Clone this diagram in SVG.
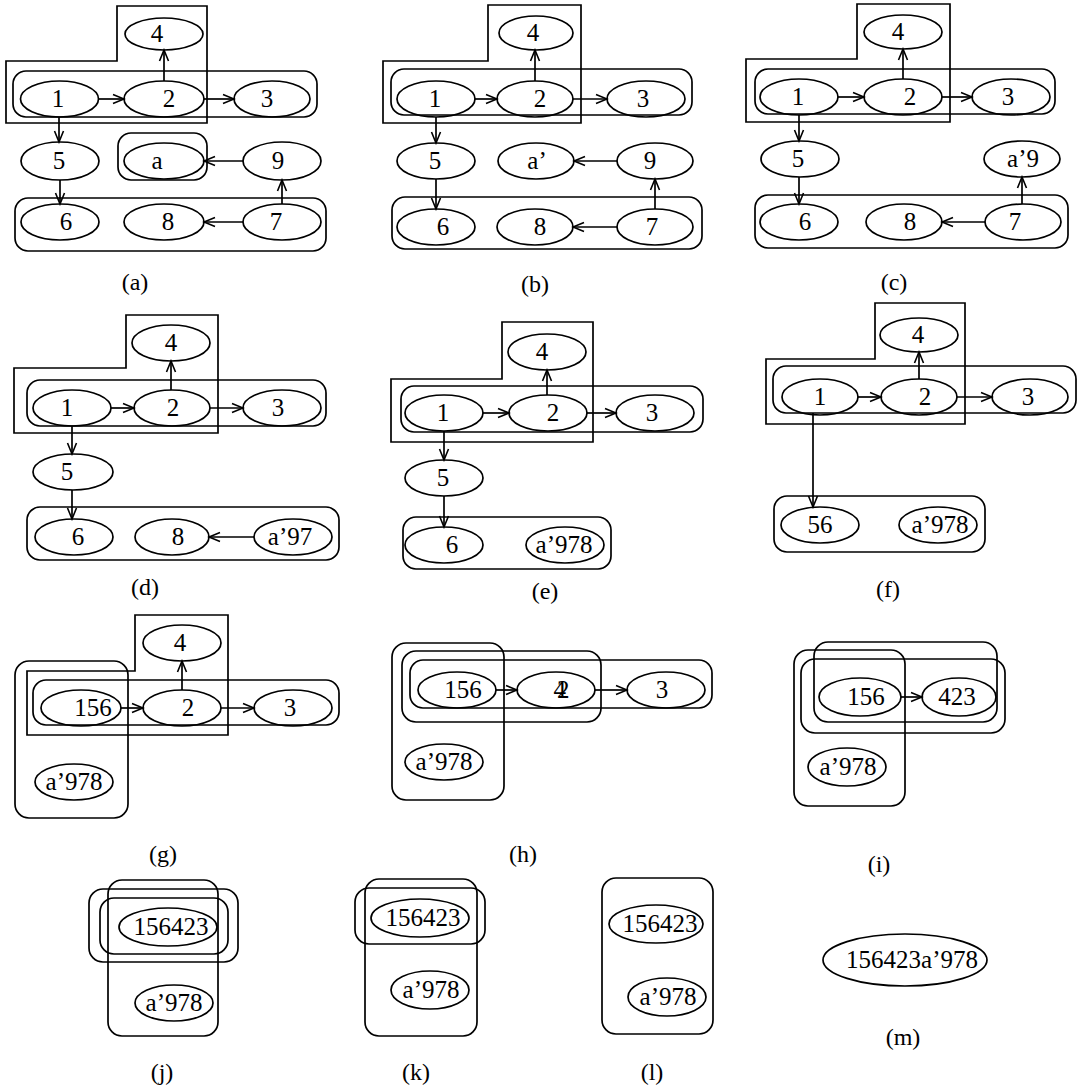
<svg xmlns="http://www.w3.org/2000/svg" width="1078" height="1088" viewBox="0 0 1078 1088">
<style>
.n{fill:none;stroke:#000;stroke-width:1.7}
.c{fill:none;stroke:#000;stroke-width:1.7}
.e{fill:none;stroke:#000;stroke-width:1.7;marker-end:url(#ah)}
text{font-family:"Liberation Serif","Times New Roman",serif;font-size:25px;fill:#000;text-anchor:middle}
.cap{font-size:24px}
</style>
<defs>
<marker id="ah" viewBox="-12 -6 14 12" refX="0" refY="0" markerWidth="14" markerHeight="12" markerUnits="userSpaceOnUse" orient="auto">
<path d="M-11,-4.5 L0,0 L-11,4.5" fill="none" stroke="#000" stroke-width="1.6"/>
</marker>
</defs>
<rect width="1078" height="1088" fill="#fff"/>

<!-- Panel a -->
<g id="panel-a">
<g id="a-clusters">
<polygon class="c" points="117,6 207,6 207,123 6,123 6,61 117,61"/>
<rect class="c" x="13" y="71" width="304" height="46" rx="13"/>
<rect class="c" x="118" y="133" width="89" height="47" rx="13"/>
<rect class="c" x="15" y="198" width="311" height="53" rx="13"/>
</g>
<g id="a-n1"><ellipse class="n" cx="59.5" cy="99" rx="39" ry="18"/><text x="58" y="107">1</text></g>
<g id="a-n2"><ellipse class="n" cx="164" cy="99" rx="40" ry="18"/><text x="169" y="107">2</text></g>
<g id="a-n3"><ellipse class="n" cx="272" cy="99" rx="38" ry="18"/><text x="267" y="107">3</text></g>
<g id="a-n4"><ellipse class="n" cx="164" cy="34" rx="39" ry="16"/><text x="157" y="42">4</text></g>
<g id="a-n5"><ellipse class="n" cx="60" cy="161" rx="39" ry="19"/><text x="59" y="169">5</text></g>
<g id="a-na"><ellipse class="n" cx="164" cy="161" rx="40" ry="18"/><text x="157" y="169">a</text></g>
<g id="a-n9"><ellipse class="n" cx="282" cy="161" rx="39" ry="19"/><text x="278" y="169">9</text></g>
<g id="a-n6"><ellipse class="n" cx="60" cy="222" rx="39" ry="18"/><text x="66" y="230">6</text></g>
<g id="a-n8"><ellipse class="n" cx="164" cy="222" rx="40" ry="18"/><text x="168" y="230">8</text></g>
<g id="a-n7"><ellipse class="n" cx="282" cy="222" rx="39" ry="18"/><text x="276" y="230">7</text></g>
<g id="a-edges">
<line class="e" x1="99" y1="99" x2="124" y2="99"/>
<line class="e" x1="204" y1="99" x2="234" y2="99"/>
<line class="e" x1="164" y1="81" x2="164" y2="50"/>
<line class="e" x1="59" y1="117" x2="59" y2="142"/>
<line class="e" x1="60" y1="180" x2="60" y2="204"/>
<line class="e" x1="243" y1="161" x2="204" y2="161"/>
<line class="e" x1="243" y1="222" x2="204" y2="222"/>
<line class="e" x1="282" y1="204" x2="282" y2="180"/>
</g>
<text class="cap" x="135" y="290">(a)</text>
</g>

<!-- Panel b -->
<g id="panel-b">
<g id="b-clusters">
<polygon class="c" points="488,5 581,5 581,123 383,123 383,61 488,61"/>
<rect class="c" x="391" y="69" width="301" height="46" rx="13"/>
<rect class="c" x="392" y="197" width="310" height="52" rx="13"/>
</g>
<g id="b-n1"><ellipse class="n" cx="436" cy="99" rx="39" ry="18"/><text x="435" y="107">1</text></g>
<g id="b-n2"><ellipse class="n" cx="535" cy="99" rx="38" ry="18"/><text x="540" y="107">2</text></g>
<g id="b-n3"><ellipse class="n" cx="646" cy="99" rx="39" ry="18"/><text x="643" y="107">3</text></g>
<g id="b-n4"><ellipse class="n" cx="536" cy="33" rx="37" ry="17"/><text x="533" y="41">4</text></g>
<g id="b-n5"><ellipse class="n" cx="436" cy="161" rx="39" ry="18"/><text x="435" y="169">5</text></g>
<g id="b-na"><ellipse class="n" cx="536" cy="161" rx="38" ry="18"/><text x="537" y="169">a’</text></g>
<g id="b-n9"><ellipse class="n" cx="655" cy="161" rx="38" ry="18"/><text x="650" y="169">9</text></g>
<g id="b-n6"><ellipse class="n" cx="436" cy="227" rx="39" ry="18"/><text x="443" y="235">6</text></g>
<g id="b-n8"><ellipse class="n" cx="535" cy="227" rx="38" ry="18"/><text x="540" y="235">8</text></g>
<g id="b-n7"><ellipse class="n" cx="655" cy="227" rx="38" ry="18"/><text x="652" y="235">7</text></g>
<g id="b-edges">
<line class="e" x1="475" y1="99" x2="497" y2="99"/>
<line class="e" x1="573" y1="99" x2="607" y2="99"/>
<line class="e" x1="535" y1="81" x2="535" y2="50"/>
<line class="e" x1="436" y1="117" x2="436" y2="143"/>
<line class="e" x1="436" y1="179" x2="436" y2="209"/>
<line class="e" x1="617" y1="161" x2="574" y2="161"/>
<line class="e" x1="617" y1="227" x2="573" y2="227"/>
<line class="e" x1="655" y1="209" x2="655" y2="179"/>
</g>
<text class="cap" x="535" y="292">(b)</text>
</g>

<!-- Panel c -->
<g id="panel-c">
<g id="c-clusters">
<polygon class="c" points="857,4 950,4 950,122 746,122 746,59 857,59"/>
<rect class="c" x="755" y="69" width="300" height="45" rx="13"/>
<rect class="c" x="755" y="195" width="313" height="53" rx="13"/>
</g>
<g id="c-n1"><ellipse class="n" cx="799" cy="97" rx="39" ry="18"/><text x="798" y="105">1</text></g>
<g id="c-n2"><ellipse class="n" cx="903" cy="97" rx="39" ry="18"/><text x="910" y="105">2</text></g>
<g id="c-n3"><ellipse class="n" cx="1011" cy="97" rx="39" ry="18"/><text x="1008" y="105">3</text></g>
<g id="c-n4"><ellipse class="n" cx="903" cy="32" rx="39" ry="17"/><text x="898" y="40">4</text></g>
<g id="c-n5"><ellipse class="n" cx="800" cy="159" rx="39" ry="18"/><text x="798" y="167">5</text></g>
<g id="c-na9"><ellipse class="n" cx="1022" cy="159" rx="38" ry="18"/><text x="1023" y="167">a’9</text></g>
<g id="c-n6"><ellipse class="n" cx="799" cy="222" rx="39" ry="18"/><text x="805" y="230">6</text></g>
<g id="c-n8"><ellipse class="n" cx="904" cy="222" rx="38" ry="18"/><text x="910" y="230">8</text></g>
<g id="c-n7"><ellipse class="n" cx="1023" cy="222" rx="38" ry="18"/><text x="1015" y="230">7</text></g>
<g id="c-edges">
<line class="e" x1="838" y1="97" x2="864" y2="97"/>
<line class="e" x1="942" y1="97" x2="972" y2="97"/>
<line class="e" x1="903" y1="79" x2="903" y2="49"/>
<line class="e" x1="799" y1="115" x2="799" y2="141"/>
<line class="e" x1="799" y1="177" x2="799" y2="204"/>
<line class="e" x1="985" y1="222" x2="942" y2="222"/>
<line class="e" x1="1022" y1="204" x2="1022" y2="177"/>
</g>
<text class="cap" x="894" y="290">(c)</text>
</g>

<!-- Panel d -->
<g id="panel-d">
<g id="d-clusters">
<polygon class="c" points="126,315 218,315 218,433 14,433 14,368 126,368"/>
<rect class="c" x="27" y="380" width="299" height="46" rx="13"/>
<rect class="c" x="27" y="507" width="312" height="53" rx="13"/>
</g>
<g id="d-n1"><ellipse class="n" cx="72" cy="408" rx="39" ry="18"/><text x="67" y="416">1</text></g>
<g id="d-n2"><ellipse class="n" cx="172" cy="408" rx="38" ry="18"/><text x="173" y="416">2</text></g>
<g id="d-n3"><ellipse class="n" cx="282" cy="408" rx="39" ry="18"/><text x="278" y="416">3</text></g>
<g id="d-n4"><ellipse class="n" cx="171" cy="343" rx="39" ry="18"/><text x="171" y="351">4</text></g>
<g id="d-n5"><ellipse class="n" cx="73" cy="472" rx="40" ry="18"/><text x="67" y="480">5</text></g>
<g id="d-n6"><ellipse class="n" cx="74" cy="537" rx="39" ry="18"/><text x="78" y="545">6</text></g>
<g id="d-n8"><ellipse class="n" cx="172" cy="537" rx="37" ry="18"/><text x="178" y="545">8</text></g>
<g id="d-na97"><ellipse class="n" cx="293" cy="537" rx="39" ry="18"/><text x="290" y="545">a’97</text></g>
<g id="d-edges">
<line class="e" x1="111" y1="408" x2="134" y2="408"/>
<line class="e" x1="210" y1="408" x2="243" y2="408"/>
<line class="e" x1="171" y1="390" x2="171" y2="361"/>
<line class="e" x1="72" y1="426" x2="72" y2="454"/>
<line class="e" x1="72" y1="490" x2="72" y2="519"/>
<line class="e" x1="254" y1="537" x2="209" y2="537"/>
</g>
<text class="cap" x="145" y="595">(d)</text>
</g>

<!-- Panel e -->
<g id="panel-e">
<g id="e-clusters">
<polygon class="c" points="502,322 593,322 593,442 391,442 391,379 502,379"/>
<rect class="c" x="401" y="386" width="302" height="46" rx="13"/>
<rect class="c" x="403" y="517" width="208" height="52" rx="13"/>
</g>
<g id="e-n1"><ellipse class="n" cx="444" cy="413" rx="39" ry="18"/><text x="443" y="421">1</text></g>
<g id="e-n2"><ellipse class="n" cx="548" cy="413" rx="39" ry="18"/><text x="553" y="421">2</text></g>
<g id="e-n3"><ellipse class="n" cx="655" cy="413" rx="39" ry="18"/><text x="652" y="421">3</text></g>
<g id="e-n4"><ellipse class="n" cx="547" cy="352" rx="39" ry="18"/><text x="542" y="360">4</text></g>
<g id="e-n5"><ellipse class="n" cx="444" cy="478" rx="39" ry="18"/><text x="443" y="486">5</text></g>
<g id="e-n6"><ellipse class="n" cx="444" cy="545" rx="39" ry="18"/><text x="452" y="553">6</text></g>
<g id="e-na978"><ellipse class="n" cx="565" cy="545" rx="39" ry="18"/><text x="564" y="553">a’978</text></g>
<g id="e-edges">
<line class="e" x1="483" y1="413" x2="509" y2="413"/>
<line class="e" x1="587" y1="413" x2="616" y2="413"/>
<line class="e" x1="547" y1="395" x2="547" y2="370"/>
<line class="e" x1="444" y1="431" x2="444" y2="460"/>
<line class="e" x1="444" y1="496" x2="444" y2="527"/>
</g>
<text class="cap" x="545" y="599">(e)</text>
</g>

<!-- Panel f -->
<g id="panel-f">
<g id="f-clusters">
<polygon class="c" points="875,303 965,303 965,424 766,424 766,359 875,359"/>
<rect class="c" x="773" y="366" width="303" height="47" rx="13"/>
<rect class="c" x="774" y="496" width="211" height="56" rx="13"/>
</g>
<g id="f-n1"><ellipse class="n" cx="820" cy="397" rx="38" ry="18"/><text x="820" y="405">1</text></g>
<g id="f-n2"><ellipse class="n" cx="919" cy="397" rx="38" ry="18"/><text x="925" y="405">2</text></g>
<g id="f-n3"><ellipse class="n" cx="1030" cy="397" rx="38" ry="18"/><text x="1028" y="405">3</text></g>
<g id="f-n4"><ellipse class="n" cx="919" cy="335" rx="39" ry="17"/><text x="918" y="343">4</text></g>
<g id="f-n56"><ellipse class="n" cx="820" cy="525" rx="39" ry="18"/><text x="820" y="533">56</text></g>
<g id="f-na978"><ellipse class="n" cx="938" cy="525" rx="39" ry="18"/><text x="940" y="533">a’978</text></g>
<g id="f-edges">
<line class="e" x1="858" y1="397" x2="881" y2="397"/>
<line class="e" x1="957" y1="397" x2="992" y2="397"/>
<line class="e" x1="919" y1="379" x2="919" y2="352"/>
<line class="e" x1="813" y1="413" x2="813" y2="507"/>
</g>
<text class="cap" x="888" y="597">(f)</text>
</g>

<!-- Panel g -->
<g id="panel-g">
<g id="g-clusters">
<polygon class="c" points="135,615 228,615 228,735 27,735 27,671 135,671"/>
<rect class="c" x="15" y="661" width="113" height="157" rx="14"/>
<rect class="c" x="33" y="680" width="306" height="45" rx="13"/>
</g>
<g id="g-n156"><ellipse class="n" cx="81" cy="708" rx="40" ry="18"/><text x="93" y="716">156</text></g>
<g id="g-n2"><ellipse class="n" cx="182" cy="708" rx="39" ry="18"/><text x="188" y="716">2</text></g>
<g id="g-n3"><ellipse class="n" cx="293" cy="708" rx="39" ry="18"/><text x="290" y="716">3</text></g>
<g id="g-n4"><ellipse class="n" cx="182" cy="643" rx="39" ry="18"/><text x="180" y="651">4</text></g>
<g id="g-na978"><ellipse class="n" cx="74" cy="782" rx="39" ry="18"/><text x="74" y="790">a’978</text></g>
<g id="g-edges">
<line class="e" x1="121" y1="708" x2="143" y2="708"/>
<line class="e" x1="221" y1="708" x2="254" y2="708"/>
<line class="e" x1="182" y1="690" x2="182" y2="661"/>
</g>
<text class="cap" x="163" y="862">(g)</text>
</g>

<!-- Panel h -->
<g id="panel-h">
<g id="h-clusters">
<rect class="c" x="392" y="643" width="112" height="157" rx="14"/>
<rect class="c" x="402" y="651" width="199" height="71" rx="14"/>
<rect class="c" x="410" y="660" width="302" height="48" rx="13"/>
</g>
<g id="h-n156"><ellipse class="n" cx="457" cy="690" rx="39" ry="18"/><text x="463" y="698">156</text></g>
<g id="h-n42"><ellipse class="n" cx="556" cy="690" rx="39" ry="18"/><text x="557" y="698" letter-spacing="-9">42</text></g>
<g id="h-n3"><ellipse class="n" cx="666" cy="690" rx="39" ry="18"/><text x="662" y="698">3</text></g>
<g id="h-na978"><ellipse class="n" cx="444" cy="762" rx="39" ry="18"/><text x="444" y="770">a’978</text></g>
<g id="h-edges">
<line class="e" x1="496" y1="690" x2="517" y2="690"/>
<line class="e" x1="595" y1="690" x2="627" y2="690"/>
</g>
<text class="cap" x="523" y="862">(h)</text>
</g>

<!-- Panel i -->
<g id="panel-i">
<g id="i-clusters">
<rect class="c" x="794" y="650" width="111" height="156" rx="14"/>
<rect class="c" x="814" y="642" width="183" height="80" rx="14"/>
<rect class="c" x="801" y="659" width="204" height="74" rx="14"/>
</g>
<g id="i-n156"><ellipse class="n" cx="860" cy="697" rx="41" ry="19"/><text x="866" y="705">156</text></g>
<g id="i-n423"><ellipse class="n" cx="959" cy="697" rx="37" ry="19"/><text x="957" y="705">423</text></g>
<g id="i-na978"><ellipse class="n" cx="847" cy="767" rx="39" ry="19"/><text x="848" y="775">a’978</text></g>
<g id="i-edges">
<line class="e" x1="901" y1="697" x2="922" y2="697"/>
</g>
<text class="cap" x="879" y="872">(i)</text>
</g>

<!-- Panel j -->
<g id="panel-j">
<g id="j-clusters">
<rect class="c" x="108" y="880" width="110" height="156" rx="14"/>
<rect class="c" x="89" y="889" width="149" height="73" rx="14"/>
<rect class="c" x="100" y="898" width="128" height="56" rx="14"/>
</g>
<g id="j-n156423"><ellipse class="n" cx="168" cy="927" rx="49" ry="19"/><text x="171" y="935">156423</text></g>
<g id="j-na978"><ellipse class="n" cx="174" cy="1003" rx="39" ry="18"/><text x="174" y="1011">a’978</text></g>
<text class="cap" x="162" y="1080">(j)</text>
</g>

<!-- Panel k -->
<g id="panel-k">
<g id="k-clusters">
<rect class="c" x="365" y="879" width="112" height="157" rx="14"/>
<rect class="c" x="355" y="888" width="130" height="56" rx="14"/>
</g>
<g id="k-n156423"><ellipse class="n" cx="420" cy="918" rx="49" ry="19"/><text x="423" y="926">156423</text></g>
<g id="k-na978"><ellipse class="n" cx="430" cy="990" rx="39" ry="19"/><text x="431" y="998">a’978</text></g>
<text class="cap" x="416" y="1080">(k)</text>
</g>

<!-- Panel l -->
<g id="panel-l">
<g id="l-clusters">
<rect class="c" x="602" y="878" width="111" height="156" rx="14"/>
</g>
<g id="l-n156423"><ellipse class="n" cx="656" cy="924" rx="47" ry="19"/><text x="660" y="932">156423</text></g>
<g id="l-na978"><ellipse class="n" cx="667" cy="997" rx="39" ry="19"/><text x="668" y="1005">a’978</text></g>
<text class="cap" x="652" y="1080">(l)</text>
</g>

<!-- Panel m -->
<g id="panel-m">
<g id="m-n"><ellipse class="n" cx="905" cy="960" rx="82" ry="26"/><text x="912" y="968">156423a’978</text></g>
<text class="cap" x="903" y="1045">(m)</text>
</g>
</svg>
